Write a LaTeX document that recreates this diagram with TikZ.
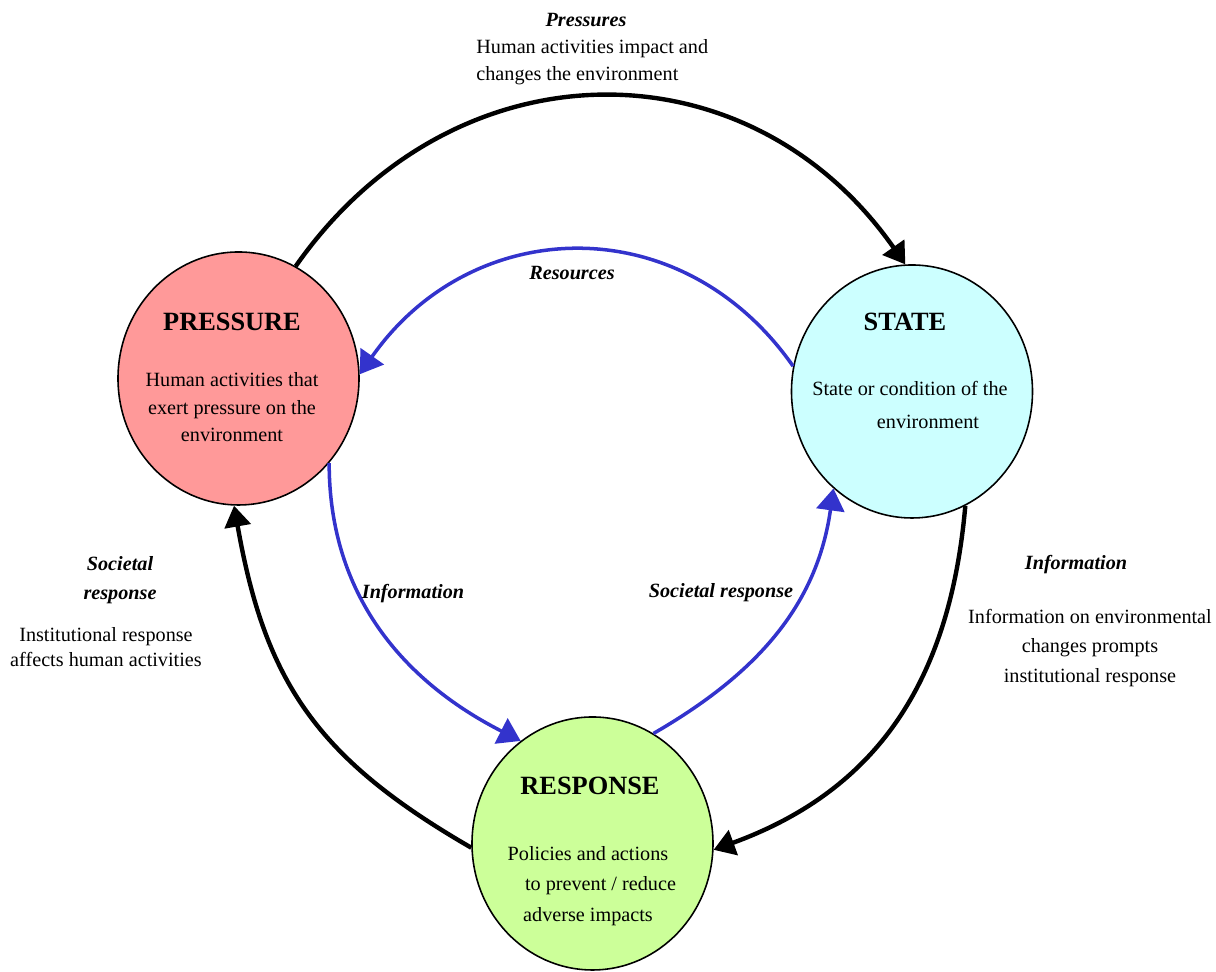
\documentclass[tikz,border=0pt]{standalone}
\usepackage{fontspec}
\setmainfont{Liberation Serif}
\usetikzlibrary{arrows.meta,shapes.geometric}
\definecolor{pressfill}{RGB}{255,153,153}
\definecolor{statefill}{RGB}{204,255,255}
\definecolor{respfill}{RGB}{204,255,153}
\definecolor{infoblue}{RGB}{51,51,204}

\begin{document}
\begin{tikzpicture}[
    blob/.style={ellipse, draw, line width=0.9pt, minimum width=4.82cm,
                 minimum height=5.06cm, inner sep=0pt},
    ttl/.style={font=\fontsize{15}{18}\selectfont\bfseries, inner sep=0pt},
    txt/.style={align=center, font=\fontsize{11.5}{15.6}\selectfont, inner sep=0pt},
    lbl/.style={align=center, font=\fontsize{11.5}{16.5}\selectfont\bfseries\itshape, inner sep=0pt},
    arr/.style={-{Triangle[length=0.42cm, width=0.52cm]}, line width=2.5pt},
    barr/.style={-{Triangle[length=0.44cm, width=0.56cm]}, line width=2pt, color=infoblue}
]
    \useasboundingbox (0,0) rectangle (24.32,19.44);

    % the three states
    \node[blob, fill=pressfill] (pressure) at (4.77,11.87) {};
    \node[blob, fill=statefill] (state)    at (18.24,11.61) {};
    \node[blob, fill=respfill]  (response) at (11.85,2.57) {};

    \node[ttl] (pressureTtl) at (4.64,13.00) {PRESSURE};
    \node[txt] (pressureTxt) at (4.64,11.29) {Human activities that\\exert pressure on the\\environment};
    \node[ttl] (stateTtl) at (18.10,13.00) {STATE};
    \node[txt, font=\fontsize{11.5}{19.3}\selectfont] (stateTxt) at (18.20,11.34)
          {State or condition of the\\\hspace*{0.72cm}environment};
    \node[ttl] (responseTtl) at (11.80,3.72) {RESPONSE};
    \node[txt, font=\fontsize{11.5}{17.2}\selectfont] (responseTxt) at (11.76,1.72)
          {Policies and actions\\\hspace*{0.5cm}to prevent / reduce\\adverse impacts};

    % outer cycle
    \draw[arr] (pressure.63)  to[out=55, in=125, looseness=1.15] (state.93);
    \draw[arr] (state.-65)    to[out=-95, in=20, looseness=1.05] (response.-3);
    \draw[arr] (response.182) to[out=150, in=-80, looseness=1.1] (pressure.268);

    % inner cycle
    \draw[barr] (state.168)    to[out=125, in=55, looseness=1.15] (pressure.2);
    \draw[barr] (pressure.-43) to[out=-90, in=153]                (response.125);
    \draw[barr] (response.61)  to[out=30, in=-98]                 (state.231);

    % labels
    \node[lbl] (pressLbl) at (11.72,19.04) {Pressures};
    \node[txt, align=left, anchor=west] (pressTxt) at (9.52,18.20)
          {Human activities impact and\\changes the environment};
    \node[lbl] (resLbl)  at (11.44,13.98) {Resources};
    \node[lbl] (socLbl)  at (2.40,7.84) {Societal\\response};
    \node[txt, font=\fontsize{11.5}{14}\selectfont] (socTxt) at (2.12,6.50)
          {Institutional response\\affects human activities};
    \node[lbl] (infoLbl) at (21.52,8.14) {Information};
    \node[txt, font=\fontsize{11.5}{17}\selectfont] (infoTxt) at (21.80,6.48)
          {Information on environmental\\changes prompts\\institutional response};
    \node[lbl] (infoInLbl) at (8.26,7.56) {Information};
    \node[lbl] (socInLbl)  at (14.42,7.58) {Societal response};
\end{tikzpicture}
\end{document}
